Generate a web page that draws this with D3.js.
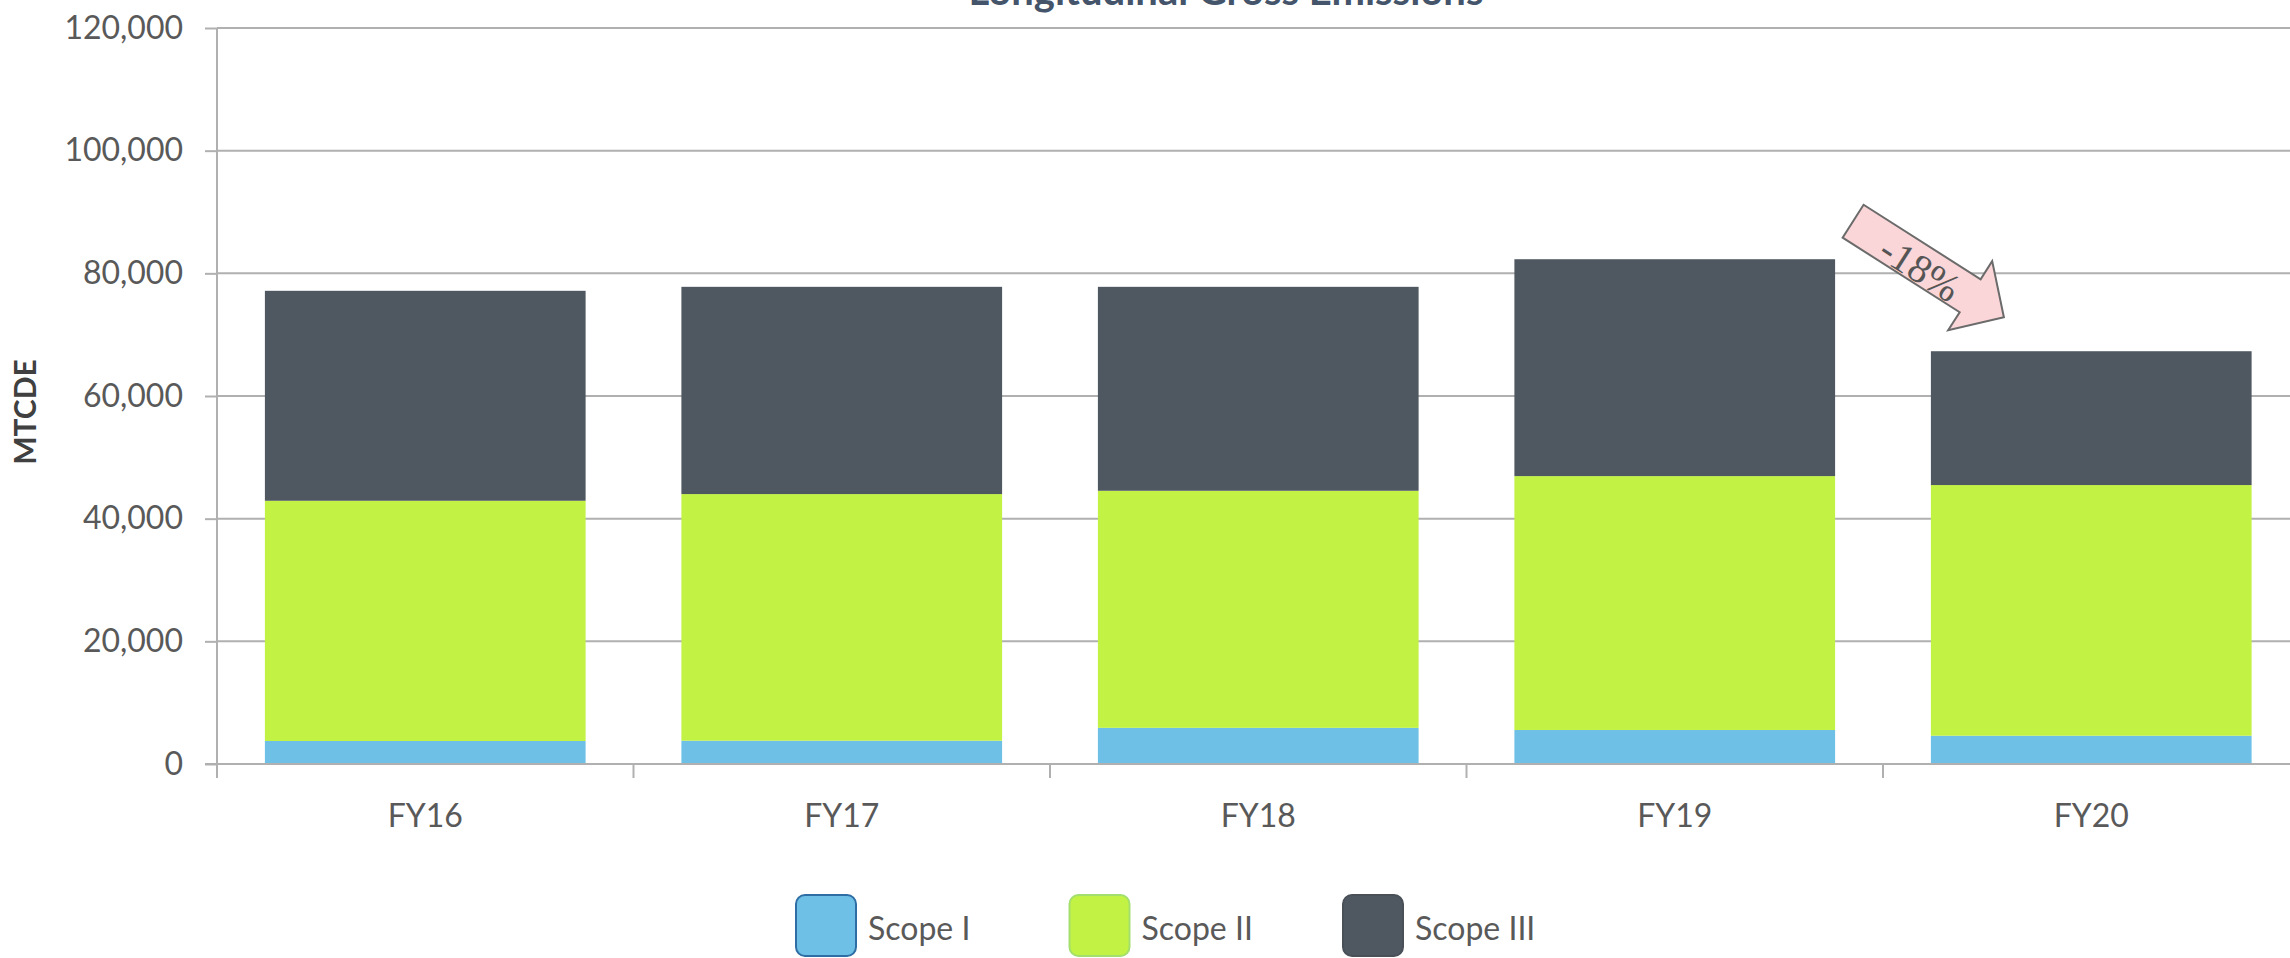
<!DOCTYPE html>
<html>
<head>
<meta charset="utf-8">
<script src="https://cdn.jsdelivr.net/npm/d3@7"></script>
<style>
    html, body { margin: 0; padding: 0; background: #fff; overflow: hidden; }
    svg { display: block; font-family: Lato, "Open Sans", sans-serif; }
</style>
</head>
<body>
<svg id="chart" width="2290" height="958"></svg>
<script>
// values
const categories = ["FY16", "FY17", "FY18", "FY19", "FY20"];
const seriesNames = ["Scope I", "Scope II", "Scope III"];
const scopeI = [3750, 3800, 5900, 5540, 4610];
const scopeII = [39170, 40210, 38650, 41400, 40870];
const scopeIII = [34230, 33790, 33250, 35360, 21820];
const yTicks = [0, 20000, 40000, 60000, 80000, 100000, 120000];
const titleText = "Longitudinal Gross Emissions";
const yLabel = "MTCDE";
const changeLabel = "-18%";

const fills = ["#6ec0e6", "#c2f244", "#4f5761"];
const borders = ["#2f6ea5", "#a3df6e", "#495058"];

class StackedBars {
    constructor(el) {
        this.svg = d3.select(el);
        this.textColor = "#595959";
        this.gridColor = "#b0b0b0";
        this.rows = categories.map((c, i) => {
            return { cat: c, "Scope I": scopeI[i], "Scope II": scopeII[i], "Scope III": scopeIII[i] };
        });
        this.x = d3.scaleBand().domain(categories).range([217, 2299.5])
            .paddingInner(0.23).paddingOuter(0.115);
        this.y = d3.scaleLinear().domain([0, 120000]).range([764, 28]);
        this.color = d3.scaleOrdinal().domain(seriesNames).range(fills);
        this.stroke = d3.scaleOrdinal().domain(seriesNames).range(borders);

        this.drawGrid();
        this.drawBars();
        this.drawAxes();
        this.drawTitles();
        this.drawArrow();
        this.drawLegend();
    }

    drawGrid() {
        this.svg.append("g")
            .selectAll("line")
            .data(yTicks.filter(d => d > 0))
            .enter().append("line")
                .attr("x1", 217).attr("x2", 2300)
                .attr("y1", d => this.y(d)).attr("y2", d => this.y(d))
                .attr("stroke", this.gridColor)
                .attr("stroke-width", 2);
    }

    drawBars() {
        const stacked = d3.stack().keys(seriesNames)(this.rows);
        this.svg.append("g")
            .selectAll("g")
            .data(stacked)
            .enter().append("g")
                .attr("fill", d => this.color(d.key))
            .selectAll("rect")
            .data(d => d)
            .enter().append("rect")
                .attr("x", d => this.x(d.data.cat))
                .attr("width", this.x.bandwidth())
                .attr("y", d => this.y(d[1]))
                .attr("height", d => this.y(d[0]) - this.y(d[1]));
    }

    drawAxes() {
        const yAxis = this.svg.append("g")
            .attr("transform", "translate(217,0)")
            .call(d3.axisLeft(this.y).tickValues(yTicks).tickFormat(d3.format(","))
                .tickSize(12).tickPadding(22));
        yAxis.select(".domain").remove();
        yAxis.selectAll(".tick line").attr("stroke", this.gridColor).attr("stroke-width", 2);
        yAxis.selectAll(".tick text")
            .attr("fill", this.textColor)
            .style("font-size", "32px")
            .style("font-family", "Lato, sans-serif");

        const xAxis = this.svg.append("g")
            .attr("transform", "translate(0,764)")
            .call(d3.axisBottom(this.x).tickSize(0).tickPadding(40).tickSizeOuter(0));
        xAxis.select(".domain").remove();
        xAxis.selectAll(".tick text")
            .attr("fill", this.textColor)
            .style("font-size", "32px")
            .style("font-family", "Lato, sans-serif");

        // baseline and the left axis line
        this.svg.append("line")
            .attr("x1", 205).attr("x2", 2300)
            .attr("y1", this.y(0)).attr("y2", this.y(0))
            .attr("stroke", this.gridColor).attr("stroke-width", 2);
        this.svg.append("line")
            .attr("x1", 217).attr("x2", 217)
            .attr("y1", this.y(120000)).attr("y2", this.y(0) + 14)
            .attr("stroke", this.gridColor).attr("stroke-width", 2);

        // category ticks sit between the bands
        const half = this.x.step() * this.x.paddingInner() / 2;
        this.svg.append("g")
            .selectAll("line")
            .data(categories)
            .enter().append("line")
                .attr("x1", d => this.x(d) + this.x.bandwidth() + half)
                .attr("x2", d => this.x(d) + this.x.bandwidth() + half)
                .attr("y1", this.y(0)).attr("y2", this.y(0) + 14)
                .attr("stroke", this.gridColor).attr("stroke-width", 2);
    }

    drawTitles() {
        // the title is cropped by the top edge, as in the source picture
        this.svg.append("text")
            .attr("x", 1226).attr("y", 5)
            .attr("text-anchor", "middle")
            .attr("fill", "#44546a")
            .style("font-size", "40px")
            .style("font-weight", "bold")
            .text(titleText);

        this.svg.append("text")
            .attr("transform", "translate(24,412) rotate(-90)")
            .attr("text-anchor", "middle")
            .attr("dominant-baseline", "central")
            .attr("fill", "#404040")
            .style("font-size", "30px")
            .style("font-weight", "bold")
            .text(yLabel);
    }

    drawArrow() {
        const total = (i) => scopeI[i] + scopeII[i] + scopeIII[i];
        const tail = [this.x("FY19") + this.x.bandwidth() + 18, this.y(total(3)) - 38];
        const tip = [this.x("FY20") + 73, this.y(total(4)) - 34];
        const len = Math.hypot(tip[0] - tail[0], tip[1] - tail[1]);
        const angle = Math.atan2(tip[1] - tail[1], tip[0] - tail[0]) * 180 / Math.PI;
        const head = 40, shaft = 19.5, wing = 41;

        const g = this.svg.append("g")
            .attr("transform", "translate(" + tail[0] + "," + tail[1] + ") rotate(" + angle + ")");
        g.append("path")
            .attr("d", "M0," + (-shaft) + "L" + (len - head) + "," + (-shaft) +
                "L" + (len - head) + "," + (-wing) + "L" + len + ",0" +
                "L" + (len - head) + "," + wing + "L" + (len - head) + "," + shaft +
                "L0," + shaft + "Z")
            .attr("fill", "#fbd6d8")
            .attr("stroke", "#6b6b6b")
            .attr("stroke-width", 2);
        g.append("text")
            .attr("x", 82).attr("y", 4)
            .attr("text-anchor", "middle")
            .attr("dominant-baseline", "central")
            .attr("fill", "#555")
            .style("font-family", "'Liberation Serif', serif")
            .style("font-size", "40px")
            .text(changeLabel);
    }

    drawLegend() {
        const items = this.svg.append("g")
            .selectAll("g")
            .data(seriesNames)
            .enter().append("g")
                .attr("transform", (d, i) => "translate(" + (795 + i * 273.5) + ",894)");
        items.append("rect")
            .attr("x", 1).attr("y", 1)
            .attr("width", 60).attr("height", 61)
            .attr("rx", 9)
            .attr("fill", d => this.color(d))
            .attr("stroke", d => this.stroke(d))
            .attr("stroke-width", 2);
        items.append("text")
            .attr("x", 73).attr("y", 46)
            .attr("fill", this.textColor)
            .style("font-size", "32px")
            .text(d => d);
    }
}

new StackedBars("#chart");
</script>
</body>
</html>
